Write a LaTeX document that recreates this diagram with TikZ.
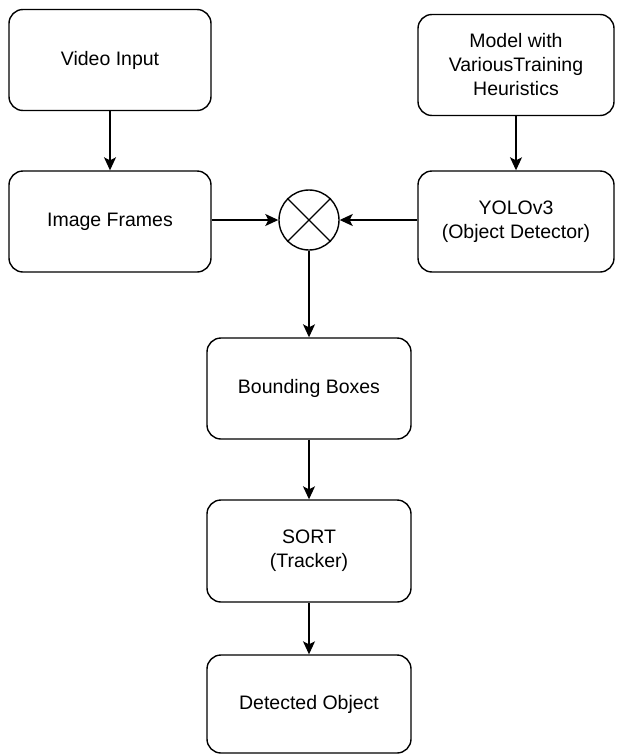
\documentclass[tikz,border=0pt]{standalone}
\usepackage{fontspec}
\setmainfont{Liberation Sans}
\usepackage{tikz}
\usetikzlibrary{shapes.geometric, arrows.meta, positioning, calc}

\begin{document}
\begin{tikzpicture}[
    x=1pt, y=-1pt,
    block/.style={draw, line width=1.4pt, rounded corners=14pt, minimum width=202pt, minimum height=101pt, align=center, font=\fontsize{19.5}{24}\selectfont, inner sep=0pt},
    mixer/.style={draw, line width=1.4pt, circle, minimum size=60pt, inner sep=0pt},
    arrow/.style={-{Stealth[length=13pt, width=12pt, inset=3pt]}, line width=1.4pt}
]
    \useasboundingbox (0,0) rectangle (618,755);

    % Left column
    \node[block] (video) at (110, 60) {Video Input};
    \node[block] (frames) at (110, 221.5) {Image Frames};

    % Right column
    \node[block, minimum width=196pt] (model) at (516, 65) {Model with\\VariousTraining\\Heuristics};
    \node[block, minimum width=196pt] (yolo) at (516, 221.5) {YOLOv3\\(Object Detector)};

    % Combiner
    \node[mixer] (mix) at (309, 220) {};
    \draw[line width=1.4pt] (mix.north west) -- (mix.south east);
    \draw[line width=1.4pt] (mix.north east) -- (mix.south west);

    % Middle column
    \node[block, minimum width=204pt] (boxes) at (309, 388.5) {Bounding Boxes};
    \node[block, minimum width=204pt, minimum height=102pt] (sort) at (309, 551) {SORT\\(Tracker)};
    \node[block, minimum width=204pt, minimum height=98pt] (detected) at (309, 704) {Detected Object};

    % Connections
    \draw[arrow] (video) -- (frames);
    \draw[arrow] (model) -- (yolo);
    \draw[arrow] (frames.east |- mix) -- (mix);
    \draw[arrow] (yolo.west |- mix) -- (mix);
    \draw[arrow] (mix) -- (boxes);
    \draw[arrow] (boxes) -- (sort);
    \draw[arrow] (sort) -- (detected);

\end{tikzpicture}
\end{document}
